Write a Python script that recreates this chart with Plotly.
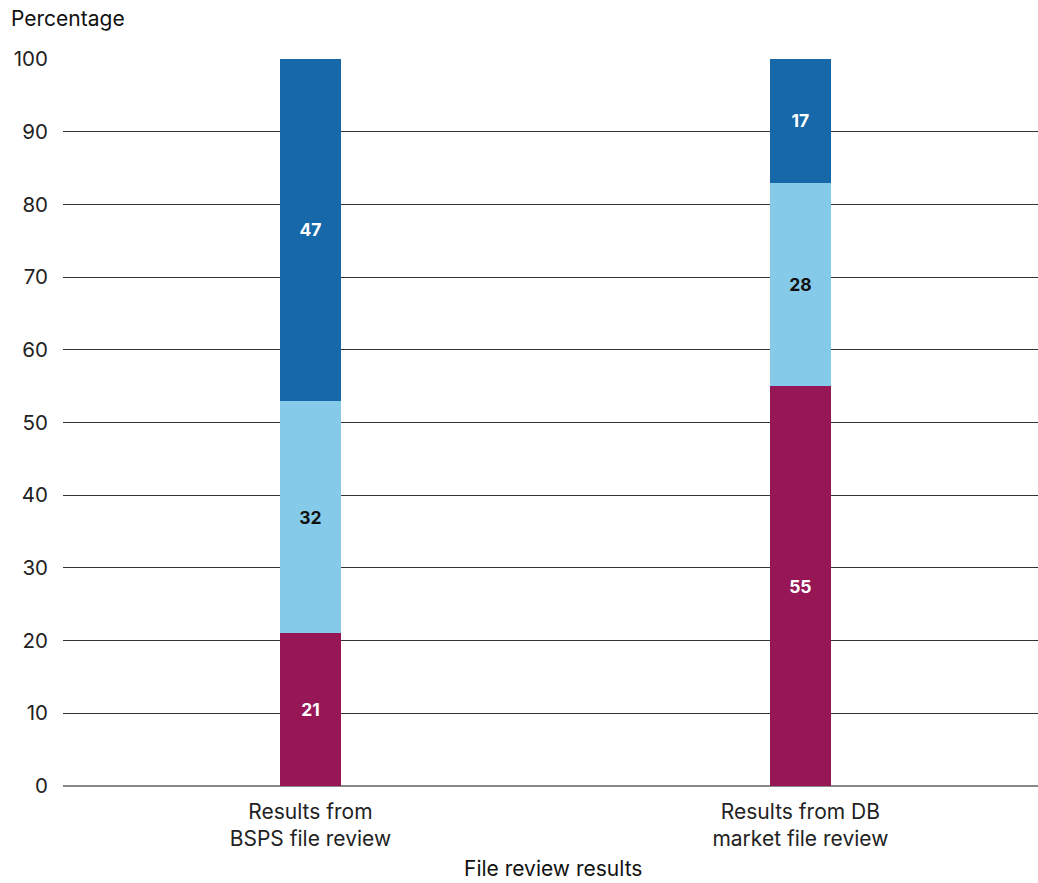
import plotly.graph_objects as go

categories = ["Results from<br>BSPS file review", "Results from DB<br>market file review"]
bottom_vals = [21, 55]
middle_vals = [32, 28]
top_vals = [47, 17]
y_ticks = [0, 10, 20, 30, 40, 50, 60, 70, 80, 90, 100]

colors = ["#961656", "#86CAE9", "#1668A8"]
text_colors = ["white", "#111111", "white"]
names = ["Bottom", "Middle", "Top"]

FONT = "Inter"

fig = go.Figure()
for vals, c, tc, n in zip([bottom_vals, middle_vals, top_vals], colors, text_colors, names):
    fig.add_trace(go.Bar(
        x=categories, y=vals, name=n, marker=dict(color=c, line=dict(width=0)),
        text=[str(v) for v in vals], textposition="inside", insidetextanchor="middle",
        textfont=dict(color=tc, size=17.5, family=FONT),
        texttemplate="<b>%{text}</b>", width=0.125,
    ))

fig.update_layout(
    barmode="stack",
    width=1038, height=883,
    margin=dict(l=63, r=0, t=59, b=97),
    paper_bgcolor="white", plot_bgcolor="white",
    showlegend=False,
    font=dict(family=FONT, size=21, color="#222222"),
    xaxis=dict(range=[-0.505, 1.485], showgrid=False, ticks="", showline=False,
               ticklabelstandoff=11, tickfont=dict(size=21, color="#222222")),
    yaxis=dict(range=[0, 100], tickvals=y_ticks, showgrid=True, gridcolor="#333333",
               gridwidth=1, zeroline=True, zerolinecolor="#888888", zerolinewidth=2,
               ticks="", ticklabelstandoff=14, tickfont=dict(size=20.5, color="#222222")),
    annotations=[
        dict(text="Percentage", xref="paper", yref="paper", x=-0.055, y=1.0,
             xanchor="left", yanchor="bottom", yshift=26, showarrow=False,
             font=dict(size=21, color="#111111")),
        dict(text="File review results", xref="paper", yref="paper", x=0.503, y=0,
             xanchor="center", yanchor="bottom", yshift=-97, showarrow=False,
             font=dict(size=21, color="#111111")),
    ],
)

fig.write_html("out.html")
